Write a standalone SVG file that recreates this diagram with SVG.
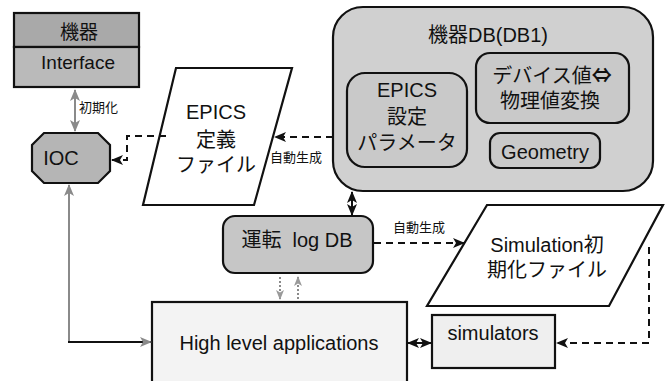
<svg xmlns="http://www.w3.org/2000/svg" width="666" height="381" viewBox="0 0 666 381">
  <defs>
    <marker id="head" viewBox="0 0 12 10" refX="11" refY="5" markerWidth="12" markerHeight="10" markerUnits="userSpaceOnUse" orient="auto-start-reverse">
      <path d="M0,0 L12,5 L0,10 L3,5 Z" fill="#111"/>
    </marker>
    <marker id="headGrey" viewBox="0 0 12 10" refX="11" refY="5" markerWidth="12" markerHeight="10" markerUnits="userSpaceOnUse" orient="auto-start-reverse">
      <path d="M0,0 L12,5 L0,10 L3,5 Z" fill="#8a8a8a"/>
    </marker>
    <marker id="headSmall" viewBox="0 0 10 8" refX="9" refY="4" markerWidth="10" markerHeight="8" markerUnits="userSpaceOnUse" orient="auto-start-reverse">
      <path d="M0,0 L10,4 L0,8 L2.5,4 Z" fill="#9a9a9a"/>
    </marker>
  </defs>
  <style>
    text { font-family: "Liberation Sans", "Noto Sans CJK JP", sans-serif; fill: #111; }
    .t { font-size: 20px; text-anchor: middle; }
    .s { font-size: 13px; }
    .box { stroke: #111; stroke-width: 2.2; }
    .conn { fill: none; stroke: #111; stroke-width: 2; }
    .dash { stroke-dasharray: 7 5; }
    .grey { stroke: #8a8a8a; }
  </style>
  <rect width="666" height="381" fill="#ffffff"/>

  <!-- device / interface block -->
  <g id="device">
    <rect x="14" y="13" width="125" height="34" fill="#a9a9a9" class="box"/>
    <rect x="14" y="47" width="125" height="40" fill="#bababa" class="box"/>
    <text x="79" y="39" class="t" style="font-size:19px">機器</text>
    <text x="78" y="69" class="t" style="font-size:19px">Interface</text>
  </g>

  <!-- IOC -->
  <g id="ioc">
    <polygon points="44,133 98,133 110,145 110,171 98,183 44,183 32,171 32,145" fill="#b5b5b5" class="box"/>
    <text x="61" y="165" class="t">IOC</text>
  </g>

  <!-- EPICS definition file -->
  <g id="epics-file">
    <polygon points="176,68 292,68 254,205 143,205" fill="#ffffff" class="box"/>
    <text x="216" y="119" class="t">EPICS</text>
    <text x="216" y="147" class="t">定義</text>
    <text x="216" y="172" class="t">ファイル</text>
  </g>

  <!-- device DB -->
  <g id="device-db">
    <rect x="333" y="7" width="320" height="184" rx="30" ry="30" fill="#d0d0d0" class="box"/>
    <text x="488" y="42" class="t">機器DB(DB1)</text>
  </g>
  <g id="epics-params">
    <rect x="347" y="73" width="120" height="94" rx="18" ry="18" fill="#c9c9c9" class="box"/>
    <text x="407" y="97" class="t">EPICS</text>
    <text x="407" y="124" class="t">設定</text>
    <text x="407" y="150" class="t">パラメータ</text>
  </g>
  <g id="conversion">
    <rect x="476" y="53" width="153" height="70" rx="14" ry="14" fill="#c9c9c9" class="box"/>
    <text x="552" y="83" class="t">デバイス値<tspan font-family="Noto Sans CJK JP, sans-serif" font-weight="bold">⇔</tspan></text>
    <text x="550" y="108" class="t">物理値変換</text>
  </g>
  <g id="geometry">
    <rect x="490" y="133" width="110" height="35" rx="10" ry="10" fill="#c9c9c9" class="box"/>
    <text x="545" y="159" class="t">Geometry</text>
  </g>

  <!-- operation log DB -->
  <g id="log-db">
    <rect x="223" y="216" width="150" height="57" rx="12" ry="12" fill="#c6c6c6" class="box"/>
    <text x="297" y="247" class="t">運転&#160; log DB</text>
  </g>

  <!-- simulation init file -->
  <g id="sim-file">
    <polygon points="487,205 663,205 609,306 427,306" fill="#ffffff" class="box"/>
    <text x="547" y="252" class="t">Simulation初</text>
    <text x="547" y="277" class="t">期化ファイル</text>
  </g>

  <!-- high level applications -->
  <g id="hla">
    <rect x="152" y="302" width="255" height="100" fill="#f3f3f3" class="box"/>
    <text x="279" y="350" class="t">High level applications</text>
  </g>

  <!-- simulators -->
  <g id="simulators">
    <rect x="432" y="315" width="123" height="53" fill="#efefef" class="box"/>
    <text x="493" y="340" class="t">simulators</text>
  </g>

  <!-- connectors -->
  <g id="connectors">
    <path d="M75,90 V131" class="conn grey" marker-start="url(#headGrey)" marker-end="url(#headGrey)"/>
    <text x="79" y="112" class="s">初期化</text>

    <path d="M166,136 H127 V160 H112" class="conn dash" marker-end="url(#head)"/>

    <path d="M333,137 H275" class="conn dash" marker-end="url(#head)"/>
    <text x="270" y="162" class="s">自動生成</text>

    <path d="M352,192 V215" class="conn" marker-start="url(#head)" marker-end="url(#head)"/>

    <path d="M374,243 H464" class="conn dash" marker-end="url(#head)"/>
    <text x="393" y="232" class="s">自動生成</text>

    <path d="M280,277 V299" class="conn grey" stroke-dasharray="2 2" marker-end="url(#headSmall)"/>
    <path d="M298,299 V277" class="conn grey" stroke-dasharray="2 2" marker-end="url(#headSmall)"/>

    <path d="M69,342 V185" class="conn grey" marker-end="url(#headGrey)"/>
    <path d="M68,342 H151" class="conn" stroke="#444" marker-end="url(#headGrey)"/>

    <path d="M408,343 H431" class="conn" marker-start="url(#head)" marker-end="url(#head)"/>

    <path d="M649,247 V343 H557" class="conn dash" marker-end="url(#head)"/>
  </g>
</svg>
